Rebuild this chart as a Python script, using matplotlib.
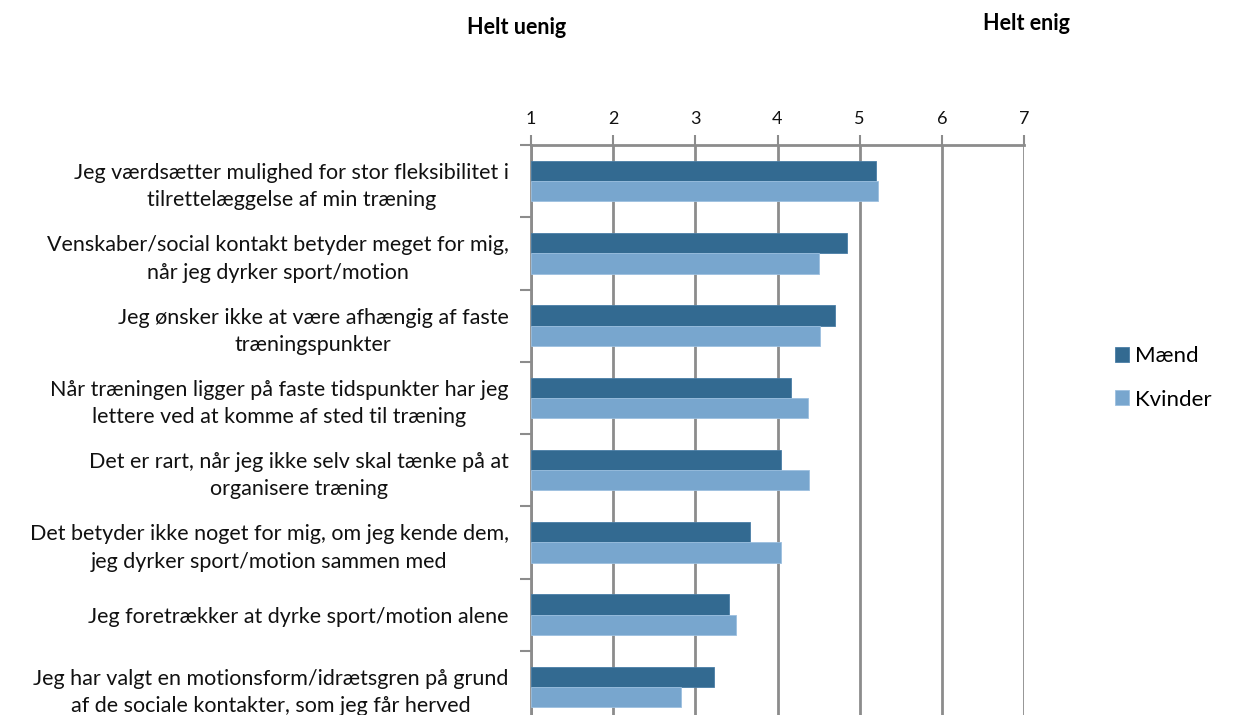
import matplotlib
matplotlib.use("Agg")
import matplotlib.pyplot as plt
import numpy as np

plt.rcParams['font.family'] = ['Lato', 'DejaVu Sans']

categories = [
    "Jeg værdsætter mulighed for stor fleksibilitet i\ntilrettelæggelse af min træning",
    "Venskaber/social kontakt betyder meget for mig,\nnår jeg dyrker sport/motion",
    "Jeg ønsker ikke at være afhængig af faste\ntræningspunkter",
    "Når træningen ligger på faste tidspunkter har jeg\nlettere ved at komme af sted til træning",
    "Det er rart, når jeg ikke selv skal tænke på at\norganisere træning",
    "Det betyder ikke noget for mig, om jeg kende dem,\njeg dyrker sport/motion sammen med",
    "Jeg foretrækker at dyrke sport/motion alene",
    "Jeg har valgt en motionsform/idrætsgren på grund\naf de sociale kontakter, som jeg får herved",
]
maend = [5.20, 4.85, 4.70, 4.16, 4.04, 3.67, 3.41, 3.23]
kvinder = [5.22, 4.50, 4.52, 4.37, 4.38, 4.04, 3.49, 2.82]
x_ticks = [1, 2, 3, 4, 5, 6, 7]
series_names = ["Mænd", "Kvinder"]

dark = "#336a91"
light = "#78a6ce"
grid_col = "#8c8c8c"

fig = plt.figure(figsize=(12.39, 7.15), dpi=100)
left, right = 531 / 1239, 1024 / 1239
top, bottom = 1 - 145 / 715, 1 - 723 / 715
ax = fig.add_axes([left, bottom, right - left, top - bottom])

n = len(categories)
y = np.arange(n)
h = 0.28
ax.barh(y - h / 2, np.array(maend) - 1, left=1, height=h, color=dark,
        edgecolor="#4a7ea6", linewidth=0.6, label=series_names[0], zorder=3)
ax.barh(y + h / 2, np.array(kvinder) - 1, left=1, height=h, color=light,
        edgecolor="#9cc0e0", linewidth=0.6, label=series_names[1], zorder=3)

ax.set_xlim(1, 7)
ax.set_ylim(n - 0.5, -0.5)
ax.xaxis.tick_top()
ax.set_xticks(x_ticks)
ax.set_xticklabels([str(t) for t in x_ticks], fontsize=13)
ax.tick_params(axis='x', direction='out', length=7, width=1.5, color=grid_col,
               pad=6, labelcolor="#111111")
ax.grid(axis='x', color=grid_col, linewidth=2, zorder=0)

# category labels centered between the boundary ticks
ax.set_yticks(y)
ax.set_yticklabels(categories, fontsize=15.5, multialignment='center',
                   linespacing=1.45)
ax.tick_params(axis='y', length=0, pad=16, labelcolor="#111111")
ax.set_yticks(np.arange(n + 1) - 0.5, minor=True)
ax.tick_params(axis='y', which='minor', direction='out', length=8, width=1.5,
               color=grid_col)

for s in ['right', 'bottom']:
    ax.spines[s].set_visible(False)
for s in ['top', 'left']:
    ax.spines[s].set_color(grid_col)
    ax.spines[s].set_linewidth(2)

fig.text(517 / 1239, 1 - 27 / 715, "Helt uenig", fontsize=15.5, fontweight='bold',
         ha='center', va='center')
fig.text(1026 / 1239, 1 - 23 / 715, "Helt enig", fontsize=15.5, fontweight='bold',
         ha='center', va='center')

fig.legend(handles=ax.get_legend_handles_labels()[0],
           labels=series_names, loc='center left',
           bbox_to_anchor=(1095 / 1239, 1 - 378 / 715), frameon=False,
           fontsize=16, handlelength=0.65, handleheight=0.65,
           handletextpad=0.25, labelspacing=1.05)

fig.savefig("out.png", dpi=100)
